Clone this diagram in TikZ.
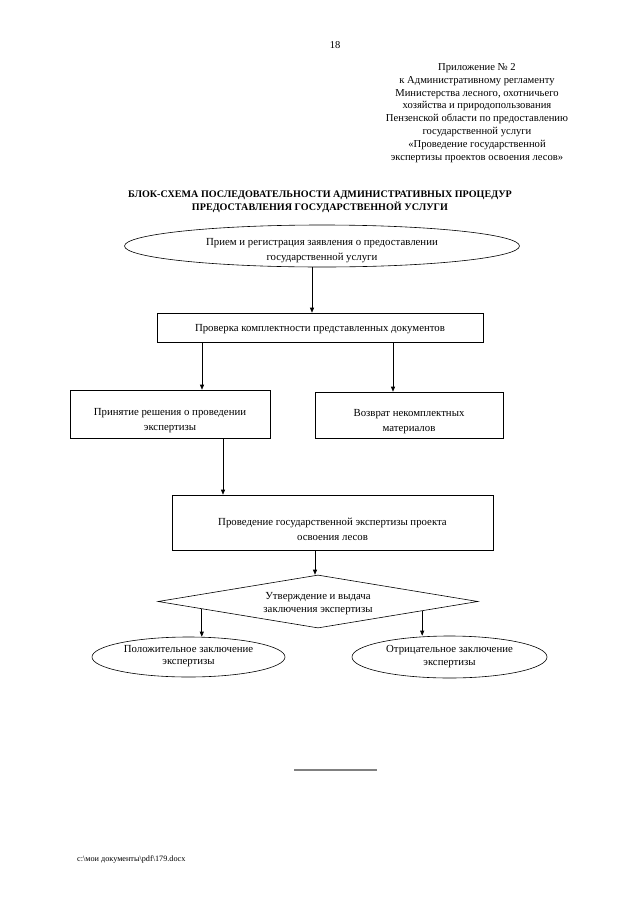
\documentclass[tikz,border=0pt]{standalone}
\usepackage{fontspec}
\setmainfont{Liberation Serif}
\usetikzlibrary{shapes.geometric,arrows.meta,calc}
\begin{document}
\begin{tikzpicture}[x=1pt,y=-1pt,
  txt/.style={font=\fontsize{10.5}{12.6}\selectfont,align=center,inner sep=0pt},
  btxt/.style={font=\fontsize{10.8}{15}\selectfont,align=center,inner sep=0pt},
  boxn/.style={draw=black,line width=0.6pt,rectangle,inner sep=0pt},
  elln/.style={draw=black,line width=0.6pt,ellipse,inner sep=0pt},
  diam/.style={draw=black,line width=0.6pt,diamond,inner sep=0pt},
  arr/.style={draw=black,line width=0.6pt,-{Triangle[length=5pt,width=4pt]}}]
\useasboundingbox[fill=white] (0,0) rectangle (640,905);
\node[txt] (pg) at (335,45) {18};
\node[txt,font=\fontsize{10.6}{12.9}\selectfont] (app) at (477,113) {Приложение № 2\\к Административному регламенту\\Министерства лесного, охотничьего\\хозяйства и природопользования\\Пензенской области по предоставлению\\государственной услуги\\«Проведение государственной\\экспертизы проектов освоения лесов»};
\node[txt,font=\bfseries\fontsize{10.1}{12.8}\selectfont] (title) at (320,201.5) {БЛОК-СХЕМА ПОСЛЕДОВАТЕЛЬНОСТИ АДМИНИСТРАТИВНЫХ ПРОЦЕДУР\\ПРЕДОСТАВЛЕНИЯ ГОСУДАРСТВЕННОЙ УСЛУГИ};
\node[elln,minimum width=395,minimum height=42,label={[btxt,yshift=-5pt]center:Прием и регистрация заявления о предоставлении\\государственной услуги}] (e1) at (322,246) {};
\node[boxn,minimum width=326,minimum height=29,label={[btxt,yshift=-1.5pt]center:Проверка комплектности представленных документов}] (r2) at (320,327.5) {};
\node[boxn,minimum width=200,minimum height=48,label={[btxt,yshift=-6.5pt]center:Принятие решения о проведении\\экспертизы}] (lb) at (170,414) {};
\node[boxn,minimum width=188,minimum height=46,label={[btxt,yshift=-6.5pt]center:Возврат некомплектных\\материалов}] (rb) at (409,415) {};
\node[boxn,minimum width=321,minimum height=55,label={[btxt,yshift=-7pt]center:Проведение государственной экспертизы проекта\\освоения лесов}] (r3) at (332.5,522.5) {};
\node[diam,minimum width=320,minimum height=53,label={[btxt,font=\fontsize{10.8}{13}\selectfont,yshift=-2pt]center:Утверждение и выдача\\заключения экспертизы}] (d) at (318,601.5) {};
\node[elln,minimum width=193,minimum height=40,label={[btxt,font=\fontsize{10.8}{12.5}\selectfont,yshift=1pt]center:Положительное заключение\\экспертизы}] (el) at (188.5,657) {};
\node[elln,minimum width=195,minimum height=42,label={[btxt,font=\fontsize{10.8}{13}\selectfont]center:Отрицательное заключение\\экспертизы}] (er) at (449.5,657) {};
\coordinate (x1) at (312,0);
\coordinate (x2) at (202,0);
\coordinate (x3) at (393,0);
\coordinate (x4) at (223,0);
\coordinate (x5) at (315,0);
\coordinate (pl) at ($(d.west)!0.275!(d.south)$);
\coordinate (pr) at ($(d.south)!0.65!(d.east)$);
\draw[arr] (e1.south -| x1) -- (r2.north -| x1);
\draw[arr] (r2.south -| x2) -- (lb.north -| x2);
\draw[arr] (r2.south -| x3) -- (rb.north -| x3);
\draw[arr] (lb.south -| x4) -- (r3.north -| x4);
\draw[arr] (r3.south -| x5) -- (d.north -| x5);
\draw[arr] (pl) -- (pl |- el.north);
\draw[arr] (pr) -- (pr |- er.north);
\coordinate (h1) at (294,770);
\coordinate (h2) at (377,770);
\draw[gray,line width=1.2pt] (h1) -- (h2);
\node[txt,anchor=west,font=\fontsize{8.2}{9}\selectfont] (foot) at (77,859) {c:\textbackslash мои документы\textbackslash pdf\textbackslash 179.docx};
\end{tikzpicture}
\end{document}
